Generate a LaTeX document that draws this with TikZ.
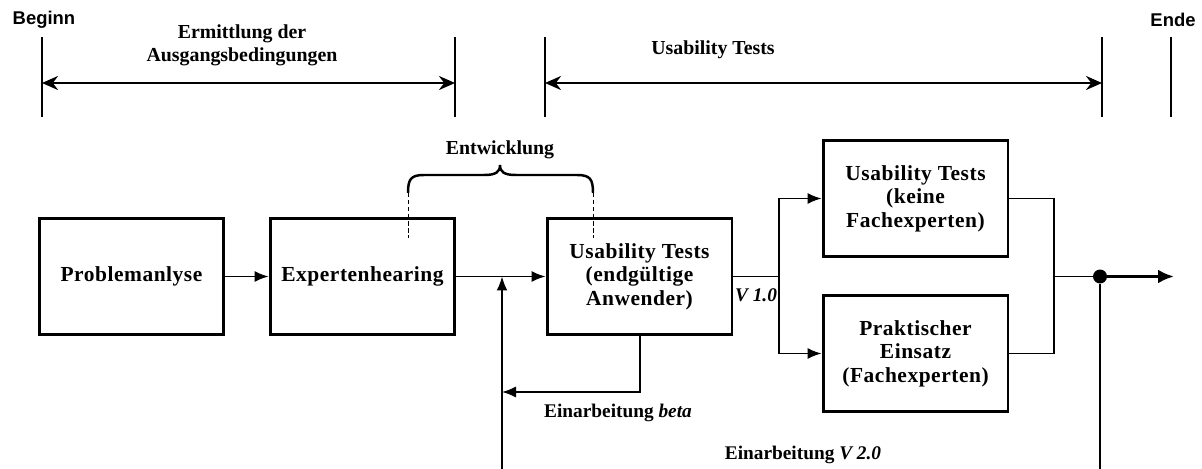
\documentclass[tikz,border=0pt]{standalone}
\usepackage{fontspec}
\setmainfont{Liberation Serif}
\newfontfamily\labelsans{Liberation Sans}
\newfontfamily\boxfont[LetterSpace=2.5]{Liberation Serif}
\usetikzlibrary{arrows.meta}
\tikzset{
  procbox/.style={draw, line width=1.7pt, minimum width=3.7cm, minimum height=2.34cm,
    align=center, inner sep=0pt, font=\boxfont\fontsize{12.2}{13.4}\selectfont\bfseries},
  conn/.style={line width=0.8pt},
  flow/.style={conn, -{Latex[length=2.8mm,width=2.2mm]}},
  phasebar/.style={line width=1.5pt},
  span/.style={line width=1.4pt, {Stealth[length=3.2mm,width=2.8mm]}-{Stealth[length=3.2mm,width=2.8mm]}},
  toplabel/.style={font=\fontsize{11.3}{13.2}\selectfont\bfseries, align=center},
  edgelabel/.style={font=\fontsize{11}{12}\selectfont\bfseries},
  marklabel/.style={font=\labelsans\fontsize{10.5}{12}\selectfont\bfseries},
}
\begin{document}
\begin{tikzpicture}[x=0.02cm, y=-0.02cm]
\path[use as bounding box] (0,0) rectangle (1202,469);

% phase markers along the top
\node[marklabel] (beginn) at (44,20) {Beginn};
\node[marklabel] (ende) at (1173,20) {Ende};
\coordinate (b1t) at (42,37);    \coordinate (b1b) at (42,117);
\coordinate (b2t) at (455,37);   \coordinate (b2b) at (455,117);
\coordinate (b3t) at (545,37);   \coordinate (b3b) at (545,117);
\coordinate (b4t) at (1102,37);  \coordinate (b4b) at (1102,117);
\coordinate (b5t) at (1171,37);  \coordinate (b5b) at (1171,117);
\foreach \t/\b in {b1t/b1b, b2t/b2b, b3t/b3b, b4t/b4b, b5t/b5b}
  \draw[phasebar] (\t) -- (\b);
\coordinate (s1a) at (42,83);  \coordinate (s1b) at (455,83);
\coordinate (s2a) at (545,83); \coordinate (s2b) at (1102,83);
\draw[span] (s1a) -- (s1b);
\draw[span] (s2a) -- (s2b);
\node[toplabel] (ermittlung) at (242,45) {Ermittlung der\\Ausgangsbedingungen};
\node[toplabel] (usab) at (713,50) {Usability Tests};

% process boxes
\node[procbox] (P) at (131.5,276.5) {Problemanlyse};
\node[procbox] (E) at (362.5,276.5) {Expertenhearing};
\node[procbox] (U) at (639.5,276.5) {Usability Tests\\(endgültige\\Anwender)};
\node[procbox] (K) at (915.5,198.5) {Usability Tests\\(keine\\Fachexperten)};
\node[procbox] (F) at (915.5,353.5) {Praktischer\\Einsatz\\(Fachexperten)};

% development brace
\coordinate (d1t) at (408,193); \coordinate (d1b) at (408,238);
\coordinate (d2t) at (593,193); \coordinate (d2b) at (593,238);
\draw[dashed, line width=0.5pt, dash pattern=on 2.5pt off 1.5pt] (d1t) -- (d1b);
\draw[dashed, line width=0.5pt, dash pattern=on 2.5pt off 1.5pt] (d2t) -- (d2b);
\draw[line width=1.4pt] (d1t) .. controls (408,179) and (411,175) .. (424,175) -- (484,175)
  .. controls (496,175) and (500,172) .. (500,165)
  .. controls (500,172) and (504,175) .. (516,175) -- (577,175)
  .. controls (590,175) and (593,179) .. (d2t);
\node[toplabel] (entw) at (500,150) {Entwicklung};

% main flow
\coordinate (j1) at (502,276.5);
\coordinate (split) at (779,276.5);
\coordinate (splitU) at (779,198.5);
\coordinate (splitD) at (779,353.5);
\coordinate (mergeU) at (1054,198.5);
\coordinate (mergeD) at (1054,353.5);
\coordinate (merge) at (1054,276.5);
\node[circle, fill, inner sep=0pt, minimum size=0.28cm] (dot) at (1100,276.5) {};
\coordinate (out) at (1174,276.5);
\coordinate (v2low) at (502,469);
\coordinate (dotlow) at (1100,469);
\coordinate (betaA) at (640,392);
\coordinate (betaB) at (502,392);

\draw[flow] (P) -- (E);
\draw[flow] (E) -- (U);
\draw[conn] (U) -- (split);
\draw[flow] (split) -- (splitU) -- (K.west);
\draw[flow] (split) -- (splitD) -- (F.west);
\draw[conn] (K.east) -- (mergeU) -- (mergeD) -- (F.east);
\draw[conn] (merge) -- (dot);
\draw[line width=1.8pt, -{Latex[length=3.2mm,width=2.8mm]}] (dot) -- (out);
\draw[line width=1pt] (dot) -- (dotlow);
\draw[line width=1pt, -{Latex[length=2.8mm,width=2.2mm]}] (v2low) -- (j1);
\draw[flow] (U.south -| betaA) -- (betaA) -- (betaB);

% labels on connectors
\node[edgelabel, font=\fontsize{11}{12}\selectfont\bfseries\itshape] (v1) at (756,295) {V 1.0};
\node[edgelabel] (beta) at (618,413) {Einarbeitung \textit{beta}};
\node[edgelabel] (v2) at (803,455) {Einarbeitung \textit{V 2.0}};
\end{tikzpicture}
\end{document}
